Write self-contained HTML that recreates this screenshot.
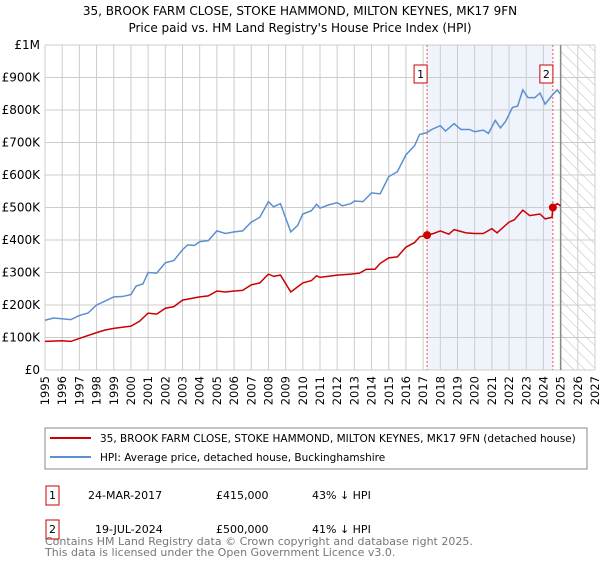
<!DOCTYPE html>
<html><head><meta charset="utf-8"><style>
body{margin:0;background:#fff;font-family:"Liberation Sans","DejaVu Sans",sans-serif;}
svg text{font-family:"DejaVu Sans","Liberation Sans",sans-serif;}
</style></head><body>
<svg id="c" width="600" height="560" xmlns="http://www.w3.org/2000/svg">
<defs><pattern id="hatch" width="8" height="8" patternUnits="userSpaceOnUse" patternTransform="rotate(-45)"><line x1="0" y1="0" x2="0" y2="8" stroke="#bbb" stroke-width="1"/></pattern></defs>
<text x="300" y="15" text-anchor="middle" font-size="12">35, BROOK FARM CLOSE, STOKE HAMMOND, MILTON KEYNES, MK17 9FN</text>
<text x="300" y="32" text-anchor="middle" font-size="12">Price paid vs. HM Land Registry's House Price Index (HPI)</text>
<g id="plot"></g>
<rect x="45" y="428" width="542" height="41" fill="none" stroke="#888"/>
<line x1="50" y1="438" x2="91" y2="438" stroke="#cc0000" stroke-width="2"/>
<text x="100" y="442" font-size="10.5">35, BROOK FARM CLOSE, STOKE HAMMOND, MILTON KEYNES, MK17 9FN (detached house)</text>
<line x1="50" y1="457" x2="91" y2="457" stroke="#5b8fd0" stroke-width="2"/>
<text x="100" y="461" font-size="10.5">HPI: Average price, detached house, Buckinghamshire</text>
<g font-size="11">
<rect x="46" y="486" width="13" height="19" fill="none" stroke="#cc0000"/><text x="52.5" y="499" text-anchor="middle">1</text>
<text x="88" y="499">24-MAR-2017</text><text x="216" y="499">£415,000</text><text x="312" y="499">43% ↓ HPI</text>
<rect x="46" y="520" width="13" height="19" fill="none" stroke="#cc0000"/><text x="52.5" y="533" text-anchor="middle">2</text>
<text x="95" y="533">19-JUL-2024</text><text x="216" y="533">£500,000</text><text x="312" y="533">41% ↓ HPI</text>
</g>
<text x="45" y="545" font-size="11" fill="#777">Contains HM Land Registry data © Crown copyright and database right 2025.</text>
<text x="45" y="556" font-size="11" fill="#777">This data is licensed under the Open Government Licence v3.0.</text>
</svg>
<script>
const yearTicks=[1995,1996,1997,1998,1999,2000,2001,2002,2003,2004,2005,2006,2007,2008,2009,2010,2011,2012,2013,2014,2015,2016,2017,2018,2019,2020,2021,2022,2023,2024,2025,2026,2027];
const valueTicks=[0,100000,200000,300000,400000,500000,600000,700000,800000,900000,1000000];
const valueLabels=["£0","£100K","£200K","£300K","£400K","£500K","£600K","£700K","£800K","£900K","£1M"];
const hpiT=[1995,1995.5,1996.5,1997,1997.5,1998,1998.5,1999,1999.5,2000,2000.3,2000.7,2001,2001.5,2002,2002.5,2003,2003.3,2003.7,2004,2004.5,2005,2005.5,2006,2006.5,2007,2007.5,2008,2008.3,2008.7,2009,2009.3,2009.7,2010,2010.5,2010.8,2011,2011.5,2012,2012.3,2012.8,2013,2013.5,2014,2014.5,2015,2015.5,2016,2016.5,2016.8,2017.2,2017.5,2018,2018.3,2018.8,2019.2,2019.7,2020,2020.5,2020.8,2021.2,2021.5,2021.8,2022.2,2022.5,2022.8,2023.1,2023.5,2023.8,2024.1,2024.5,2024.8,2025];
const hpiV=[153000,160000,155000,168000,175000,200000,212000,225000,226000,232000,258000,265000,300000,298000,330000,337000,370000,385000,383000,395000,398000,428000,420000,425000,428000,455000,470000,518000,502000,512000,468000,425000,445000,480000,490000,510000,498000,508000,515000,505000,512000,520000,518000,545000,542000,595000,610000,662000,690000,725000,730000,740000,752000,735000,758000,740000,740000,733000,738000,728000,768000,745000,765000,808000,812000,862000,838000,838000,852000,818000,845000,862000,848000];
const propT=[1995,1996,1996.5,1997,1998,1998.5,1999,2000,2000.5,2001,2001.5,2002,2002.5,2003,2003.5,2004,2004.5,2005,2005.5,2006,2006.5,2007,2007.5,2008,2008.3,2008.7,2009.3,2010,2010.5,2010.8,2011,2012,2012.8,2013.3,2013.7,2014.2,2014.5,2015,2015.5,2016,2016.5,2016.8,2017.23,2017.6,2018,2018.5,2018.8,2019.5,2020,2020.5,2021,2021.3,2022,2022.3,2022.8,2023.2,2023.8,2024.1,2024.5,2024.55,2024.8,2025];
const propV=[88000,90000,88000,97000,115000,123000,128000,135000,150000,175000,172000,190000,195000,215000,220000,225000,228000,243000,240000,243000,245000,262000,268000,295000,288000,292000,240000,268000,275000,290000,285000,292000,295000,298000,310000,310000,328000,345000,348000,378000,392000,410000,415000,420000,428000,418000,432000,422000,420000,420000,435000,422000,455000,462000,492000,475000,480000,465000,470000,500000,512000,505000];
const saleT=[2017.23,2024.55];
const saleV=[415000,500000];
const saleLabels=["1","2"];
const X0=45,X1=595,Y0=370,Y1=45;
const xs=t=>X0+(t-1995)/(2027-1995)*(X1-X0);
const ys=v=>Y0-v/1000000*(Y0-Y1);
const g=document.getElementById('plot');
const NS="http://www.w3.org/2000/svg";
function mk(tag,attrs,parent){const e=document.createElementNS(NS,tag);for(const k in attrs)e.setAttribute(k,attrs[k]);(parent||g).appendChild(e);return e;}
let e;
e=mk('rect',{x:xs(saleT[0]),y:Y1,width:xs(saleT[1])-xs(saleT[0]),height:Y0-Y1,fill:'#eef3fc'});


e=mk('rect',{x:xs(2025),y:Y1,width:X1-xs(2025),height:Y0-Y1,fill:'url(#hatch)'});


yearTicks.forEach(t=>{
 e=mk('line',{x1:xs(t),x2:xs(t),y1:Y1,y2:Y0,stroke:'#ccc'});
 
 
 e=mk('text',{x:0,y:0,'font-size':11.5,'text-anchor':'end',transform:`translate(${xs(t)+4},${Y0+6}) rotate(-90)`});
 e.textContent=t;
 
 
});
valueTicks.forEach((v,i)=>{
 e=mk('line',{x1:X0,x2:X1,y1:ys(v),y2:ys(v),stroke:'#ccc'});
 
 
 e=mk('text',{x:X0-5,y:ys(v)+4,'font-size':12,'text-anchor':'end'});
 e.textContent=valueLabels[i];
 
 
});
e=mk('line',{x1:xs(2025),x2:xs(2025),y1:Y1,y2:Y0,stroke:'#888','stroke-width':1.5});


saleT.forEach((t,i)=>{
 e=mk('line',{x1:xs(t),x2:xs(t),y1:Y1,y2:Y0,stroke:'#e55','stroke-dasharray':'2,2'});
 
 
 e=mk('rect',{x:xs(t)-13,y:65,width:13,height:18,fill:'#fff',stroke:'#cc0000'});
 
 
 e=mk('text',{x:xs(t)-6.5,y:78,'font-size':11,'text-anchor':'middle'});
 e.textContent=saleLabels[i];
 
 
});
e=mk('polyline',{points:hpiT.map((t,i)=>xs(t)+','+ys(hpiV[i])).join(' '),fill:'none',stroke:'#5b8fd0','stroke-width':1.5});


e=mk('polyline',{points:propT.map((t,i)=>xs(t)+','+ys(propV[i])).join(' '),fill:'none',stroke:'#cc0000','stroke-width':1.5});


saleT.forEach((t,i)=>{
 e=mk('circle',{cx:xs(t),cy:ys(saleV[i]),r:4,fill:'#cc0000'});
 
 
});
</script>
</body></html>
